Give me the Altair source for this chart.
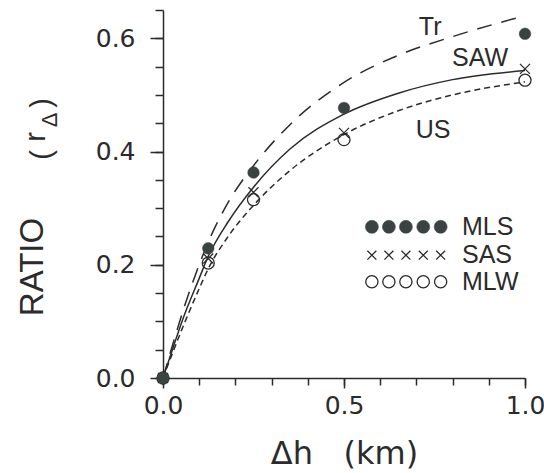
import altair as alt
import pandas as pd

# ---- data ----
dh = [0.0, 0.125, 0.25, 0.5, 1.0]
mls = [0.0, 0.229, 0.363, 0.477, 0.608]
sas = [0.0, 0.211, 0.328, 0.433, 0.546]
mlw = [0.0, 0.203, 0.315, 0.421, 0.526]

curve_x = [0.0, 0.03, 0.06, 0.10, 0.125, 0.18, 0.25, 0.35, 0.5, 0.65, 0.8, 1.0]
tr = [0.0, 0.066, 0.128, 0.200, 0.240, 0.310, 0.375, 0.447, 0.522, 0.570, 0.603, 0.640]
saw = [0.0, 0.058, 0.113, 0.176, 0.215, 0.276, 0.337, 0.404, 0.466, 0.503, 0.527, 0.543]
us = [0.0, 0.050, 0.098, 0.158, 0.193, 0.250, 0.305, 0.366, 0.430, 0.472, 0.500, 0.523]

curve_names = ["Tr", "SAW", "US"]
curve_label_x = [0.738, 0.876, 0.746]
curve_label_y = [0.620, 0.565, 0.438]

legend_names = ["MLS", "SAS", "MLW"]
legend_marker_x = [0.577, 0.624, 0.671, 0.719, 0.767]
legend_row_y = [0.267, 0.217, 0.170]
legend_text_x = 0.826

x_ticks = [0.0, 0.1, 0.2, 0.3, 0.4, 0.5, 0.6, 0.7, 0.8, 0.9, 1.0]
x_major = [0.0, 0.5, 1.0]
y_ticks = [0.0, 0.05, 0.1, 0.15, 0.2, 0.25, 0.3, 0.35, 0.4, 0.45, 0.5, 0.55, 0.6, 0.65]
y_major = [0.0, 0.2, 0.4, 0.6]

INK = "#2b2b2b"
DOT = "#3b4342"
NUMFONT = "DejaVu Sans"
TXTFONT = "Liberation Sans"

xs = alt.Scale(domain=[0, 1], nice=False)
ys = alt.Scale(domain=[0, 0.65], nice=False)

xaxis = alt.Axis(
    orient="bottom",
    values=x_ticks,
    labelExpr="(datum.value == 0 || datum.value == 0.5 || datum.value == 1) ? format(datum.value, '.1f') : ''",
    tickSize=7,
    labelPadding=8,
    labelFont=NUMFONT, labelFontSize=25, labelColor=INK, labelOverlap=False, labelFlush=False,
    domainColor=INK, domainWidth=1.5, tickColor=INK, tickWidth=1.5, grid=False,
    title="Δh\u00a0\u00a0 (km)", titleFont=NUMFONT, titleFontSize=32, titleFontWeight="normal",
    titleColor=INK, titleBaseline="alphabetic", titleY=85,
)
yaxis = alt.Axis(
    orient="left",
    values=y_ticks,
    labelExpr="(datum.value == 0 || datum.value == 0.2 || datum.value == 0.4 || datum.value == 0.6) ? format(datum.value, '.1f') : ''",
    tickSize=8,
    labelPadding=20,
    labelFont=NUMFONT, labelFontSize=25, labelColor=INK, labelOverlap=False, labelFlush=False,
    domainColor=INK, domainWidth=1.5, tickColor=INK, tickWidth=1.5, grid=False,
    title="",
)

X = lambda f: alt.X(f, scale=xs, axis=xaxis)
Y = lambda f: alt.Y(f, scale=ys, axis=yaxis)


def curve(vals, dash=None):
    df = pd.DataFrame({"x": curve_x, "y": vals})
    kw = dict(color=INK, strokeWidth=1.5, interpolate="monotone")
    if dash is not None:
        kw["strokeDash"] = dash
    return alt.Chart(df).mark_line(**kw).encode(x=X("x:Q"), y=Y("y:Q"))


l_tr = curve(tr, [15, 10])
l_saw = curve(saw)
l_us = curve(us, [6, 4])

CROSS = "M-1,-1L1,1M-1,1L1,-1"


def pts(xv, yv, kind, size):
    df = pd.DataFrame({"x": xv, "y": yv})
    if kind == "filled":
        m = alt.Chart(df).mark_point(shape="circle", filled=True, fill=DOT, stroke=DOT, strokeWidth=0.5,
                                     size=size, opacity=1)
    elif kind == "cross":
        m = alt.Chart(df).mark_point(shape=CROSS, filled=False, stroke=INK, size=size, strokeWidth=1.3, opacity=1)
    else:
        m = alt.Chart(df).mark_point(shape="circle", filled=False, stroke=INK, size=size, strokeWidth=1.3, opacity=1)
    return m.encode(x=X("x:Q"), y=Y("y:Q"))


p_mlw = pts(dh, mlw, "open", 145)
p_sas = pts(dh, sas, "cross", 100)
p_mls = pts(dh, mls, "filled", 135)

# legend markers
lg_mls = pts(legend_marker_x, [legend_row_y[0]] * 5, "filled", 170)
lg_sas = pts(legend_marker_x, [legend_row_y[1]] * 5, "cross", 80)
lg_mlw = pts(legend_marker_x, [legend_row_y[2]] * 5, "open", 150)
lg_text = alt.Chart(pd.DataFrame({"x": [legend_text_x] * 3, "y": legend_row_y, "t": legend_names})).mark_text(
    align="left", baseline="middle", font=TXTFONT, fontSize=25, color=INK
).encode(x=X("x:Q"), y=Y("y:Q"), text="t:N")

c_text = alt.Chart(pd.DataFrame({"x": curve_label_x, "y": curve_label_y, "t": curve_names})).mark_text(
    align="center", baseline="middle", font=TXTFONT, fontSize=25, color=INK
).encode(x=X("x:Q"), y=Y("y:Q"), text="t:N")

# y-axis title with subscript (rotated text pieces)
one = pd.DataFrame({"a": [0]})


def ytitle(txt, px, py, size):
    return alt.Chart(one).mark_text(
        text=txt, angle=270, align="center", baseline="alphabetic", font=TXTFONT, fontSize=size, color=INK
    ).encode(x=alt.value(px - 163), y=alt.value(py - 10))


t_ratio = ytitle("RATIO", 43, 267, 33)
t_lp = ytitle("(", 51, 155, 29)
t_r = ytitle("r", 45, 137, 29)
t_d = ytitle("Δ", 57, 120, 22)
t_rp = ytitle(")", 51, 103, 29)

main = alt.layer(
    l_tr, l_saw, l_us, p_mlw, p_sas, p_mls, lg_mls, lg_sas, lg_mlw, lg_text, c_text,
    t_ratio, t_lp, t_r, t_d, t_rp,
)

# longer major ticks drawn by a second, label-less axis pair
major = alt.Chart(pd.DataFrame({"x": [0.5], "y": [0.3]})).mark_point(opacity=0).encode(
    x=alt.X("x:Q", scale=xs, axis=alt.Axis(orient="bottom", values=x_major, tickSize=10, labels=False,
                                            domain=False, grid=False, tickColor=INK, tickWidth=1.5, title="")),
    y=alt.Y("y:Q", scale=ys, axis=alt.Axis(orient="left", values=y_major, tickSize=13, labels=False,
                                            domain=False, grid=False, tickColor=INK, tickWidth=1.5, title="")),
)

chart = alt.layer(main, major).resolve_axis(x="independent", y="independent").properties(
    width=362, height=368,
    autosize=alt.AutoSizeParams(type="none"),
    padding={"left": 163, "top": 10, "right": 19, "bottom": 95},
    background="white",
).configure_view(stroke=None)

chart.save("out.html", embed_options={"renderer": "svg", "actions": False})
